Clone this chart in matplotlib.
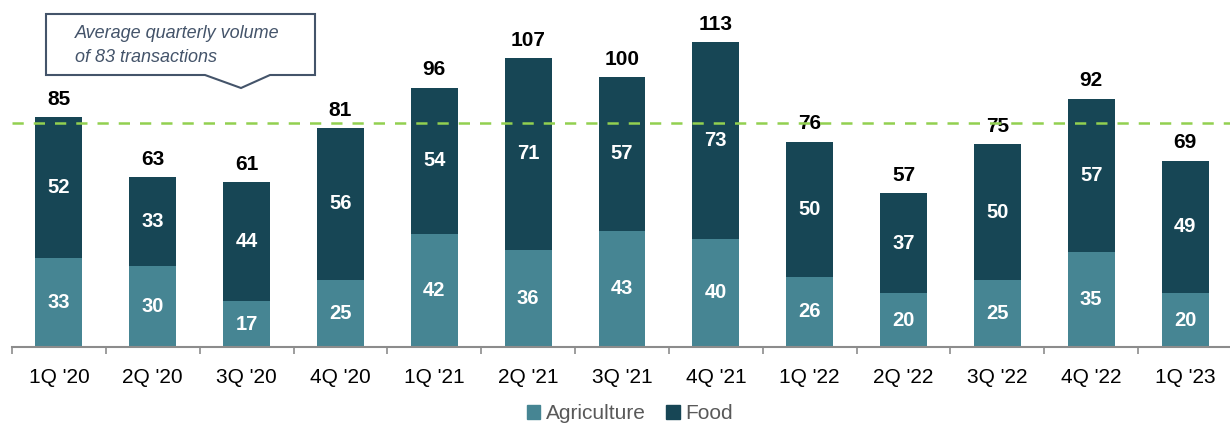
import numpy as np
import matplotlib.pyplot as plt
from matplotlib.patches import Polygon
from matplotlib.patches import Patch

plt.rcParams['font.family'] = ['Liberation Sans', 'DejaVu Sans']

# data
quarters = ["1Q '20", "2Q '20", "3Q '20", "4Q '20", "1Q '21", "2Q '21", "3Q '21",
            "4Q '21", "1Q '22", "2Q '22", "3Q '22", "4Q '22", "1Q '23"]
agriculture = [33, 30, 17, 25, 42, 36, 43, 40, 26, 20, 25, 35, 20]
food = [52, 33, 44, 56, 54, 71, 57, 73, 50, 37, 50, 57, 49]
average = 83

agri_color = '#468593'
food_color = '#174655'
W, H = 1230, 423

fig = plt.figure(figsize=(W / 100, H / 100), dpi=100)
ax = fig.add_axes([12 / W, 76 / H, 1220 / W, 337.5 / H])

x = np.arange(len(quarters))
totals = np.array(agriculture) + np.array(food)

b1 = ax.bar(x, agriculture, width=0.5, color=agri_color)
b2 = ax.bar(x, food, width=0.5, bottom=agriculture, color=food_color)

for i in range(len(x)):
    ax.text(x[i], agriculture[i] / 2, str(agriculture[i]), ha='center', va='center',
            color='white', fontsize=14.5, fontweight='bold')
    ax.text(x[i], agriculture[i] + food[i] / 2, str(food[i]), ha='center', va='center',
            color='white', fontsize=14.5, fontweight='bold')
    ax.annotate(str(totals[i]), (x[i], totals[i]), xytext=(0, 6), textcoords='offset points',
                ha='center', va='bottom', fontsize=15, fontweight='bold', color='black')

ax.axhline(average, color='#92D050', linestyle=(0, (4.5, 4)), linewidth=1.8, zorder=3)

ax.set_xlim(-0.5, 12.48)
ax.set_ylim(0, 125)
ax.set_xticks(x)
ax.set_xticklabels(quarters, fontsize=15, color='black')
ax.set_xticks(np.arange(-0.5, 13, 1), minor=True)
ax.tick_params(axis='x', which='major', length=0, pad=15)
ax.tick_params(axis='x', which='minor', length=5, color='#8c8c8c', width=1.2)
ax.set_yticks([])
for s in ['top', 'right', 'left']:
    ax.spines[s].set_visible(False)
ax.spines['bottom'].set_color('#8c8c8c')
ax.spines['bottom'].set_linewidth(1.5)

# callout box, pixel coords from the top-left
pts = [(46, 14), (315, 14), (315, 75), (270, 75), (241, 88), (205, 75), (46, 75)]
poly = Polygon([(px / W, 1 - py / H) for px, py in pts], closed=True,
               transform=fig.transFigure, facecolor='white', edgecolor='#44546A', linewidth=1.5)
fig.add_artist(poly)
fig.text(75 / W, 1 - 34 / H, 'Average quarterly volume', fontsize=13, style='italic',
         color='#44546A', va='center', ha='left')
fig.text(75 / W, 1 - 58 / H, 'of 83 transactions', fontsize=13, style='italic',
         color='#44546A', va='center', ha='left')

handles = [Patch(color=agri_color, label='Agriculture'), Patch(color=food_color, label='Food')]
fig.legend(handles=handles, loc='lower center', bbox_to_anchor=(0.512, -0.045), ncol=2,
           frameon=False, fontsize=15, labelcolor='#595959', handlelength=0.65,
           handleheight=0.65, handletextpad=0.25, columnspacing=1.0)

fig.savefig('out.png', dpi=100)
